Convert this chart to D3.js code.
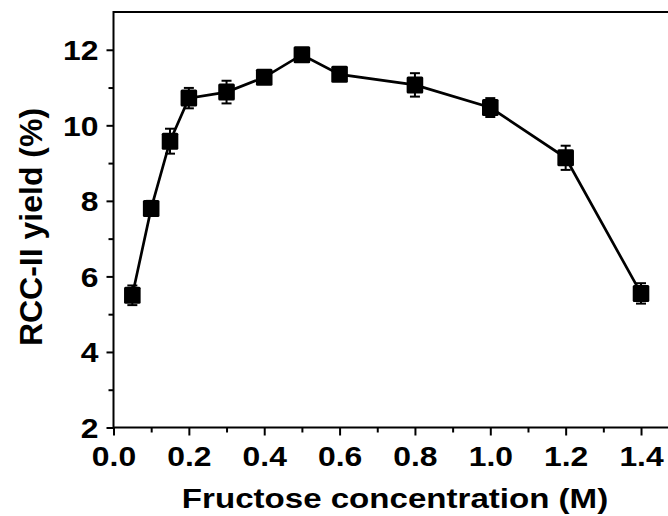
<!DOCTYPE html>
<html>
<head>
  <script src="https://d3js.org/d3.v7.min.js"></script>
  <style>
    body { margin: 0; background: #fff; }
    text { font-family: "Liberation Sans", Arial, sans-serif; font-weight: bold; fill: #000; }
  </style>
</head>
<body>
  <script>
    // Fructose concentration (M)
    const conc = [0.05, 0.1, 0.15, 0.2, 0.3, 0.4, 0.5, 0.6, 0.8, 1.0, 1.2, 1.4];
    // RCC-II yield (%) and error
    const yieldPct = [5.5, 7.8, 9.58, 10.72, 10.88, 11.27, 11.87, 11.35, 11.07, 10.47, 9.14, 5.55];
    const yieldErr = [0.26, 0.2, 0.33, 0.27, 0.3, 0.1, 0.1, 0.12, 0.31, 0.25, 0.32, 0.27];

    const xTicks = [0.0, 0.2, 0.4, 0.6, 0.8, 1.0, 1.2, 1.4];
    const yTicks = [2, 4, 6, 8, 10, 12];

    const w = 668, h = 516;
    const mLeft = 113.5, mTop = 12, mBottom = 427.5, mRight = 678.7;
    const stretch = 1.18; // text in the original is a bit wider than tall
    const fs = 27;

    const x = d3.scaleLinear().domain([0, 1.5]).range([mLeft, mRight]);
    const y = d3.scaleLinear().domain([2, 13]).range([mBottom, mTop]);

    const svg = d3.select("body").append("svg")
      .attr("width", w).attr("height", h);

    // frame
    svg.append("rect")
      .attr("x", mLeft).attr("y", mTop)
      .attr("width", mRight - mLeft).attr("height", mBottom - mTop)
      .attr("fill", "none").attr("stroke", "#000").attr("stroke-width", 2);

    // x axis
    const xAxis = d3.axisBottom(x).tickValues(xTicks).tickSize(8)
      .tickFormat(d3.format(".1f"));
    svg.append("g").attr("class", "xax").attr("transform", "translate(0," + mBottom + ")").call(xAxis);
    svg.append("g").attr("transform", "translate(0," + mBottom + ")")
      .call(d3.axisBottom(x).tickValues(d3.range(0.1, 1.5, 0.2)).tickSize(5).tickFormat(""));

    // y axis
    const yAxis = d3.axisLeft(y).tickValues(yTicks).tickSize(7);
    svg.append("g").attr("class", "yax").attr("transform", "translate(" + mLeft + ",0)").call(yAxis);
    svg.append("g").attr("transform", "translate(" + mLeft + ",0)")
      .call(d3.axisLeft(y).tickValues([3, 5, 7, 9, 11]).tickSize(5).tickFormat(""));

    svg.selectAll(".domain").remove();
    svg.selectAll(".tick line").attr("stroke", "#000").attr("stroke-width", 2);
    svg.selectAll(".tick text").attr("font-size", fs).attr("font-family", "Liberation Sans, Arial, sans-serif")
      .attr("font-weight", "bold").attr("fill", "#000");
    svg.selectAll(".xax .tick text")
      .attr("y", 39).attr("dy", 0)
      .attr("transform", "scale(" + stretch + ",1)");
    svg.selectAll(".yax .tick text")
      .attr("x", 0).attr("dy", "0.36em")
      .attr("transform", "translate(-15,0) scale(" + stretch + ",1)");

    // line
    const line = d3.line().x((d, i) => x(conc[i])).y(d => y(d));
    svg.append("path")
      .datum(yieldPct)
      .attr("d", line)
      .attr("fill", "none").attr("stroke", "#000").attr("stroke-width", 2.7);

    // error bars
    const eb = svg.append("g").attr("stroke", "#000").attr("stroke-width", 2);
    yieldPct.forEach((v, i) => {
      const cx = x(conc[i]);
      eb.append("line").attr("x1", cx).attr("x2", cx)
        .attr("y1", y(v - yieldErr[i])).attr("y2", y(v + yieldErr[i]));
      [v - yieldErr[i], v + yieldErr[i]].forEach(e => {
        eb.append("line").attr("x1", cx - 5).attr("x2", cx + 5)
          .attr("y1", y(e)).attr("y2", y(e));
      });
    });

    // markers
    svg.selectAll("rect.pt")
      .data(yieldPct)
      .enter()
      .append("rect")
      .attr("class", "pt")
      .attr("x", (d, i) => x(conc[i]) - 8.3)
      .attr("y", d => y(d) - 8.5)
      .attr("width", 16.6).attr("height", 17)
      .attr("rx", 1.5)
      .attr("fill", "#000");

    // axis titles
    svg.append("text")
      .attr("transform", "translate(395,507.5) scale(1.225,1)")
      .attr("text-anchor", "middle")
      .attr("font-size", fs)
      .text("Fructose concentration (M)");

    svg.append("text")
      .attr("transform", "translate(41.5,227) rotate(-90)")
      .attr("text-anchor", "middle")
      .attr("font-size", 32)
      .text("RCC-II yield (%)");
  </script>
</body>
</html>
